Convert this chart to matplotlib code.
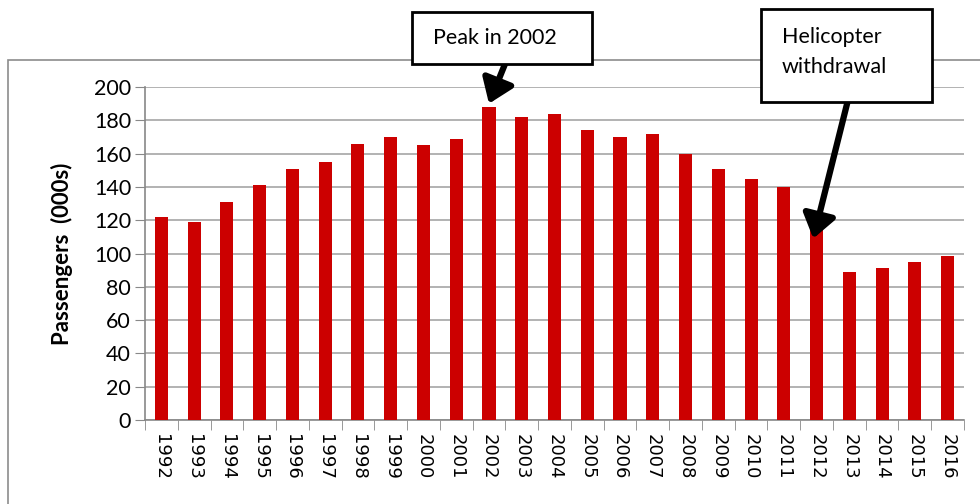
import matplotlib
matplotlib.use("Agg")
from matplotlib import pyplot as plt
from matplotlib.patches import Rectangle
import numpy as np

years = [str(y) for y in range(1992, 2017)]
passengers = [122, 119, 131, 141, 151, 155, 166, 170, 165, 169, 188, 182, 184,
              174, 170, 172, 160, 151, 145, 140, 121, 89, 91, 95, 98.5]
y_ticks = list(range(0, 201, 20))

peak_label = "Peak in 2002"
heli_label = "Helicopter\nwithdrawal"

W, H = 980, 504
fig = plt.figure(figsize=(W / 100, H / 100), dpi=100)
ax = fig.add_axes([145 / W, 1 - 420 / H, (964 - 145) / W, (420 - 87) / H])

x = np.arange(len(years))
ax.bar(x, passengers, width=0.4, color="#cc0000", zorder=3)

ax.set_xlim(-0.5, len(years) - 0.5)
ax.set_ylim(0, 200)
ax.set_yticks(y_ticks)
ax.set_yticklabels([str(t) for t in y_ticks], fontfamily="Lato", fontsize=15.5)
ax.yaxis.grid(True, color="#a6a6a6", lw=1.2, zorder=0)

# year labels sit under each bar, tick marks sit between bars
ax.set_xticks(x)
ax.set_xticklabels(years, rotation=270, fontfamily="DejaVu Sans", fontsize=13)
ax.set_xticks(np.arange(-0.5, len(years)), minor=True)
ax.tick_params(axis="x", which="major", length=0, pad=10)
ax.tick_params(axis="x", which="minor", length=7, color="#888888", direction="out")
ax.tick_params(axis="y", length=7, color="#888888", direction="out", pad=3)

for s in ["top", "right"]:
    ax.spines[s].set_visible(False)
for s in ["left", "bottom"]:
    ax.spines[s].set_color("#888888")
    ax.spines[s].set_linewidth(1.2)

ax.set_ylabel("Passengers  (000s)", fontfamily="Lato", fontweight="bold",
              fontsize=16)
ax.yaxis.set_label_coords((73 - 145) / (964 - 145), 0.5)

# outer chart border
fig.patches.append(Rectangle((8 / W, -0.1), 1.2, 1 - 60 / H + 0.1,
                             transform=fig.transFigure, fill=False,
                             ec="#8c8c8c", lw=1.2))

# callout boxes
def px_box(x0, y0, x1, y1):
    fig.patches.append(Rectangle((x0 / W, 1 - y1 / H), (x1 - x0) / W, (y1 - y0) / H,
                                 transform=fig.transFigure, fc="white",
                                 ec="black", lw=2, zorder=5))

px_box(412, 12, 592, 64)
px_box(761, 9, 932, 102)
fig.text(433 / W, 1 - 38 / H, peak_label, fontfamily="Lato", fontsize=15.5,
         va="center", ha="left", zorder=6)
fig.text(782 / W, 1 - 52 / H, heli_label, fontfamily="Lato", fontsize=15.5,
         va="center", ha="left", linespacing=1.65, zorder=6)

arrow = dict(arrowstyle="-|>,head_length=0.7,head_width=0.5", lw=4.5,
             color="black", shrinkA=0, shrinkB=0, mutation_scale=20)
ax.annotate("", xy=(10, 190), xycoords="data", xytext=(505, H - 64),
            textcoords="figure pixels", arrowprops=arrow, annotation_clip=False)
ax.annotate("", xy=(19.9, 109), xycoords="data", xytext=(848, H - 100),
            textcoords="figure pixels", arrowprops=arrow, annotation_clip=False)

fig.savefig("out.png", dpi=100)
